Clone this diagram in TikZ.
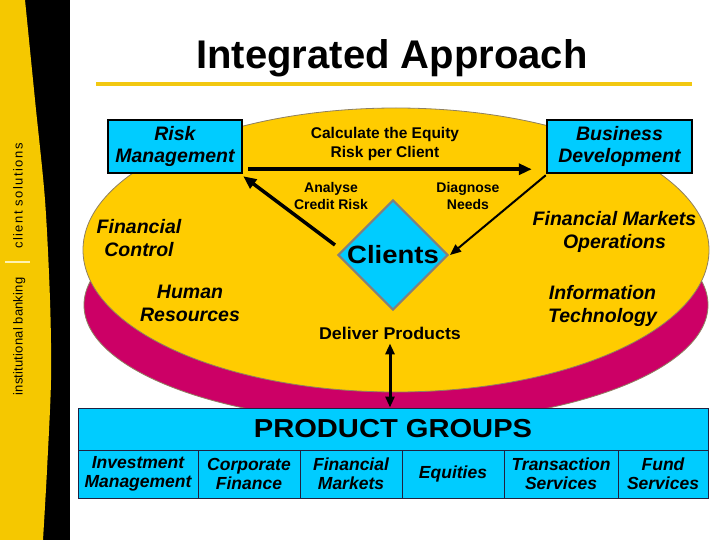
\documentclass[tikz,border=0pt]{standalone}
\usepackage{fontspec}
\setmainfont{Liberation Sans}
\newfontfamily\vfa[LetterSpace=1.5]{Liberation Sans}
\newfontfamily\vfb[LetterSpace=11]{Liberation Sans}
\usepackage{graphicx}
\usetikzlibrary{shapes.geometric,arrows.meta,calc}
\definecolor{ellyellow}{HTML}{FFCC00}
\definecolor{bandyellow}{HTML}{F5C800}
\definecolor{magentac}{HTML}{CC0066}
\definecolor{cyanc}{HTML}{00CCFF}
\definecolor{edgec}{HTML}{8F8060}
\definecolor{linec}{HTML}{F2C811}
\definecolor{diamedge}{HTML}{808080}
\definecolor{pgedge}{HTML}{202040}
\definecolor{sepc}{HTML}{FFF3B0}
\begin{document}
\begin{tikzpicture}[x=1pt,y=-1pt,
  bluebox/.style={draw=black, line width=2.5pt, fill=cyanc, minimum height=53pt,
    inner sep=0pt, align=center, font=\fontsize{19.5}{22}\selectfont\bfseries\itshape},
  lblit/.style={align=center, inner sep=0pt, font=\fontsize{19.5}{23}\selectfont\bfseries\itshape},
  lblbf/.style={align=center, inner sep=0pt, font=\fontsize{14}{17}\selectfont\bfseries},
  cellbox/.style={draw=pgedge, line width=1pt, fill=cyanc, minimum height=48pt,
    inner sep=0pt, align=center, font=\fontsize{17.5}{19}\selectfont\bfseries\itshape},
  arrowthick/.style={line width=3.5pt, -{Triangle[length=13pt,width=11pt]}},
  arrowthin/.style={line width=2pt, -{Triangle[length=11pt,width=9pt]}}
]
\useasboundingbox (0,0) rectangle (720,540);
\fill[white] (0,0) rectangle (720,540);
% left band
\fill[black] (0,0) rectangle (70,540);
\fill[bandyellow] (0,0) -- plot[smooth] coordinates {(25,0) (35,100) (45,200) (50,300) (51,380) (47,470) (43,540)} -- (0,540) -- cycle;
\node[rotate=90, anchor=base, inner sep=0pt, font=\vfa\fontsize{13}{15}\selectfont] (vt1) at (22.5,336.5) {institutional banking};
\node[rotate=90, anchor=base, inner sep=0pt, font=\vfb\fontsize{13}{15}\selectfont] (vt2) at (22.5,196) {client solutions};
\draw[sepc, line width=1.5pt] (5,262) -- (30,262);
% title
\node[anchor=base, inner sep=0pt, font=\fontsize{40}{48}\selectfont\bfseries] (title) at (392,69) {Integrated Approach};
\draw[linec, line width=4pt] (96,84) -- (692,84);
% ellipses
\draw[fill=magentac, draw=edgec, line width=0.8pt] (396,305) ellipse [x radius=312pt, y radius=118pt];
\draw[fill=ellyellow, draw=edgec, line width=0.8pt] (396,250) ellipse [x radius=313pt, y radius=142pt];
% boxes
\node[bluebox, minimum width=134pt] (rm) at (175,146.5) {Risk\\Management};
\node[bluebox, minimum width=145pt] (bd) at (619.5,146.5) {Business\\Development};
% diamond
\node[diamond, aspect=1, minimum width=110pt, minimum height=110pt, inner sep=0pt,
  fill=cyanc, draw=diamedge, line width=2pt, font=\fontsize{25}{30}\selectfont\bfseries] (cl) at (393,255) {\scalebox{1.1}[1]{Clients}};
% labels
\node[align=center, inner sep=0pt, font=\fontsize{15.5}{19}\selectfont\bfseries] (calc) at (385,143.5) {Calculate the Equity\\Risk per Client};
\node[lblbf] (acr) at (331,195.5) {Analyse\\Credit Risk};
\node[lblbf] (dn) at (468,195.5) {Diagnose\\Needs};
\node[lblit] (fc) at (139,237.6) {Financial\\Control};
\node[lblit] (hr) at (190,303.5) {Human\\Resources};
\node[lblit] (fmo) at (614.5,231.5) {Financial Markets\\Operations};
\node[lblit] (it) at (602.5,305.5) {Information\\Technology};
\node[inner sep=0pt, font=\fontsize{17}{20}\selectfont\bfseries] (dp) at (390,333) {\scalebox{1.05}[1]{Deliver Products}};
% product groups
\node[draw=pgedge, line width=1pt, fill=cyanc, minimum width=630pt, minimum height=42pt, inner sep=0pt,
  font=\fontsize{26}{30}\selectfont\bfseries] (pgh) at (393,429) {\scalebox{1.12}[1]{PRODUCT GROUPS}};
\node[cellbox, minimum width=120pt] (c1) at (138,474) {Investment\\Management};
\node[cellbox, minimum width=102pt] (c2) at (249,474) {Corporate\\Finance};
\node[cellbox, minimum width=102pt] (c3) at (351,474) {Financial\\Markets};
\node[cellbox, minimum width=102pt] (c4) at (453,474) {Equities};
\node[cellbox, minimum width=114pt] (c5) at (561,474) {Transaction\\Services};
\node[cellbox, minimum width=90pt] (c6) at (663,474) {Fund\\Services};
% connectors
\draw[arrowthick] ([xshift=5pt,yshift=5pt]rm.south east) -- ([xshift=-14pt,yshift=5pt]bd.south west);
\draw[arrowthick] ([xshift=-2pt,yshift=10pt]cl.west) -- ([yshift=-2pt]rm.south east);
\draw[arrowthin] ([yshift=-1pt]bd.south west) -- ([xshift=1pt]cl.east);
\draw[line width=3pt, {Triangle[length=11pt,width=9pt]}-{Triangle[length=11pt,width=9pt]}] ([yshift=-4pt]dp.south) -- (dp.south |- pgh.north);
\end{tikzpicture}
\end{document}
